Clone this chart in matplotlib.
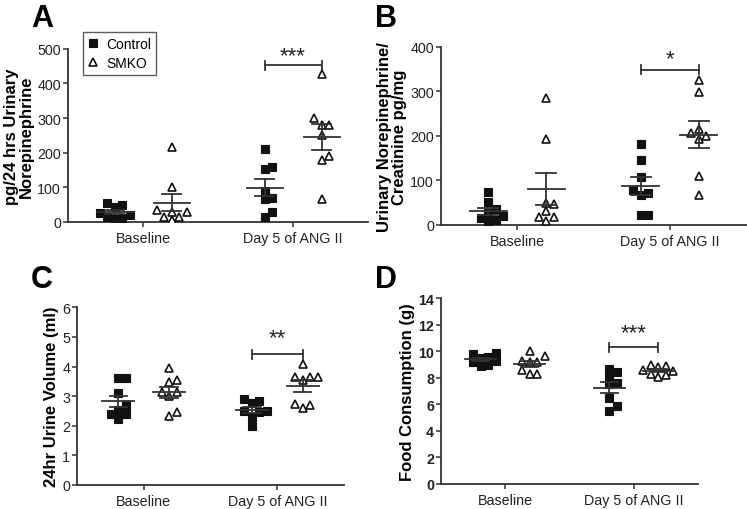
import numpy as np
import matplotlib
matplotlib.use("Agg")
import matplotlib.pyplot as plt

plt.rcParams['font.family'] = ['Liberation Sans', 'DejaVu Sans']

categories = ["Baseline", "Day 5 of ANG II"]
groups = ["Control", "SMKO"]

# Panel A: pg/24 hrs urinary norepinephrine
a_ctrl_base = [48, 42, 55, 25, 20, 15, 12, 10]
a_smko_base = [215, 100, 35, 30, 30, 15, 15, 5]
a_ctrl_d5 = [212, 160, 152, 88, 70, 65, 30, 15]
a_smko_d5 = [428, 300, 280, 280, 250, 190, 178, 65]

# Panel B: urinary norepinephrine / creatinine
b_ctrl_base = [75, 51, 37, 26, 20, 15, 12, 8]
b_smko_base = [285, 194, 49, 47, 32, 19, 17, 9]
b_ctrl_d5 = [181, 146, 108, 79, 71, 67, 22, 22]
b_smko_d5 = [326, 299, 215, 206, 200, 192, 111, 67]

# Panel C: 24hr urine volume (ml)
c_ctrl_base = [3.6, 3.6, 3.1, 2.7, 2.52, 2.41, 2.41, 2.23]
c_smko_base = [3.95, 3.56, 3.47, 3.13, 3.13, 3.02, 2.45, 2.32]
c_ctrl_d5 = [2.89, 2.85, 2.76, 2.49, 2.49, 2.45, 2.31, 1.99]
c_smko_d5 = [4.1, 3.65, 3.65, 3.65, 3.55, 2.75, 2.7, 2.6]

# Panel D: food consumption (g)
d_ctrl_base = [9.8, 9.9, 9.6, 9.5, 9.3, 9.2, 9.0, 8.9]
d_smko_base = [10.05, 9.62, 9.3, 9.2, 9.2, 8.62, 8.29, 8.29]
d_ctrl_d5 = [8.67, 8.42, 8.09, 7.54, 7.6, 6.48, 5.85, 5.48]
d_smko_d5 = [9.0, 8.9, 8.8, 8.6, 8.5, 8.3, 8.2, 8.1]

panels = [
    dict(letter="A", data=[[a_ctrl_base, a_smko_base], [a_ctrl_d5, a_smko_d5]],
         ylim=(0, 500), yticks=[0, 100, 200, 300, 400, 500],
         ylabel="pg/24 hrs Urinary\nNorepinephrine", stars="***", bar_y=452, star_y=479,
         pos=[68, 368, 49.7, 223], tickbold=False),
    dict(letter="B", data=[[b_ctrl_base, b_smko_base], [b_ctrl_d5, b_smko_d5]],
         ylim=(0, 400), yticks=[0, 100, 200, 300, 400],
         ylabel="Urinary Norepinephrine/\nCreatinine pg/mg", stars="*", bar_y=348, star_y=372,
         pos=[441, 746, 47.7, 226], tickbold=False),
    dict(letter="C", data=[[c_ctrl_base, c_smko_base], [c_ctrl_d5, c_smko_d5]],
         ylim=(0, 6), yticks=[0, 1, 2, 3, 4, 5, 6],
         ylabel="24hr Urine Volume (ml)", stars="**", bar_y=4.42, star_y=4.96,
         pos=[77, 344, 308.3, 486], tickbold=False),
    dict(letter="D", data=[[d_ctrl_base, d_smko_base], [d_ctrl_d5, d_smko_d5]],
         ylim=(0, 14), yticks=[0, 2, 4, 6, 8, 10, 12, 14],
         ylabel="Food Consumption (g)", stars="***", bar_y=10.3, star_y=11.38,
         pos=[441, 698, 299.3, 485], tickbold=True),
]

W, H = 747, 510
fig = plt.figure(figsize=(W / 100, H / 100), dpi=100)

AX_COLOR = "#333333"
OFFSET = 0.19


def swarm_offsets(ax, xc, vals, diam):
    """Return x positions (data) for points, avoiding overlaps in pixel space."""
    trans = ax.transData
    inv = trans.inverted()
    px0 = trans.transform((xc, 0))[0]
    ypx = [trans.transform((xc, v))[1] for v in vals]
    order = np.argsort(ypx)
    placed = []
    xs = [0.0] * len(vals)
    step = diam * 0.5
    for i in order:
        y = ypx[i]
        cands = [0.0]
        for k in range(1, 12):
            cands += [k * step, -k * step]
        for c in cands:
            ok = True
            for (px, py) in placed:
                if abs(py - y) < diam * 0.95 and abs(px - c) < diam * 0.95:
                    ok = False
                    break
            if ok:
                placed.append((c, y))
                xs[i] = inv.transform((px0 + c, y))[0]
                break
    return xs


for p in panels:
    x0, x1, yt, yb = p["pos"]
    ax = fig.add_axes([x0 / W, 1 - yb / H, (x1 - x0) / W, (yb - yt) / H])
    ax.set_xlim(-0.5, 1.5)
    ax.set_ylim(*p["ylim"])
    for s in ["top", "right"]:
        ax.spines[s].set_visible(False)
    for s in ["left", "bottom"]:
        ax.spines[s].set_color(AX_COLOR)
        ax.spines[s].set_linewidth(1.3)
    ax.set_yticks(p["yticks"])
    ax.set_xticks([0, 1])
    ax.set_xticklabels(categories)
    ax.tick_params(axis="both", direction="out", length=3.5, width=1.1, colors=AX_COLOR,
                   labelcolor="#222222", labelsize=10.3)
    ax.tick_params(axis="y", pad=1.5)
    ax.tick_params(axis="x", pad=3)
    if p["tickbold"]:
        for lab in ax.get_yticklabels():
            lab.set_fontweight("bold")
    ax.set_ylabel(p["ylabel"], fontsize=12, fontweight="bold", labelpad=2.5, linespacing=1.0)

    for ci, pair in enumerate(p["data"]):
        for gi, vals in enumerate(pair):
            xc = ci + (-OFFSET if gi == 0 else OFFSET)
            xs = swarm_offsets(ax, xc, vals, 7.5)
            if gi == 0:
                ax.plot(xs, vals, linestyle="none", marker="s", ms=5.2, mfc="#111111",
                        mec="#111111", mew=0.8, zorder=3,
                        label=groups[0] if ci == 0 else None)
            else:
                ax.plot(xs, vals, linestyle="none", marker="^", ms=6.3, mfc="white",
                        mec="#111111", mew=1.2, zorder=3,
                        label=groups[1] if ci == 0 else None)
            m = np.mean(vals)
            sem = np.std(vals, ddof=1) / np.sqrt(len(vals))
            ax.plot([xc - 0.12, xc + 0.12], [m, m], color="#333333", lw=1.3, zorder=4)
            ax.plot([xc, xc], [m - sem, m + sem], color="#333333", lw=1.3, zorder=4)
            ax.plot([xc - 0.065, xc + 0.065], [m + sem, m + sem], color="#333333", lw=1.3, zorder=4)
            ax.plot([xc - 0.065, xc + 0.065], [m - sem, m - sem], color="#333333", lw=1.3, zorder=4)

    # significance bracket on Day 5
    yr = p["ylim"][1] - p["ylim"][0]
    bx0, bx1 = 1 - OFFSET, 1 + OFFSET
    ax.plot([bx0, bx1], [p["bar_y"]] * 2, color="#333333", lw=1.3, clip_on=False)
    for bx in (bx0, bx1):
        ax.plot([bx, bx], [p["bar_y"] - yr * 0.025, p["bar_y"] + yr * 0.025],
                color="#333333", lw=1.3, clip_on=False)
    ax.text(1, p["star_y"], p["stars"], ha="center", va="center", fontsize=16,
            color="#222222", clip_on=False)
    p["ax"] = ax

# panel letters positioned in figure pixels
letter_pos = {"A": (31, 27), "B": (375, 27), "C": (31, 288), "D": (375, 288)}
for p in panels:
    lx, ly = letter_pos[p["letter"]]
    fig.text(lx / W, 1 - ly / H, p["letter"], fontsize=22, fontweight="bold", ha="left",
             va="baseline")

axA = panels[0]["ax"]
leg = axA.legend(loc="upper left", bbox_to_anchor=((83 - 68) / 300, (223 - 33) / 173.3),
                 fontsize=10, frameon=True, fancybox=False, edgecolor="#333333",
                 handlelength=0.8, handletextpad=0.5, borderpad=0.35, labelspacing=0.35,
                 borderaxespad=0)
leg.get_frame().set_linewidth(1.0)

fig.savefig("out.png", dpi=100)
